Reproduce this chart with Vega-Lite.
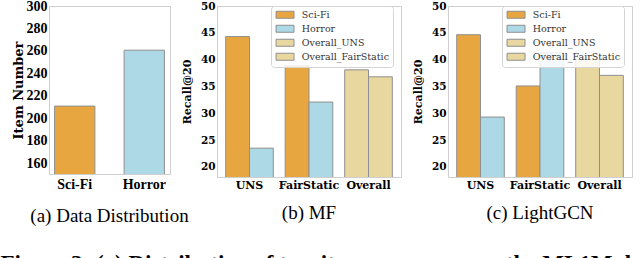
{
  "$schema": "https://vega.github.io/schema/vega-lite/v6.json",
  "background": "white",
  "padding": {"left": 0, "top": -2, "right": 5, "bottom": 0},
  "bounds": "flush",
  "spacing": 47,
  "title": {
    "text": "Figure 3: (a) Distribution of two item genres across the ML1M dataset",
    "orient": "bottom",
    "anchor": "start",
    "font": "Liberation Serif",
    "fontWeight": "bold",
    "fontSize": 23,
    "color": "#000000",
    "offset": 26,
    "dx": -11
  },
  "resolve": {"scale": {"fill": "independent"}, "legend": {"fill": "independent"}},
  "hconcat": [
    {
      "title": {"text": "(a) Data Distribution", "orient": "bottom", "anchor": "middle", "font": "Liberation Serif", "fontWeight": "normal", "fontSize": 19, "color": "#000000", "offset": 16},
      "data": {"values": [
        {"genre": "Sci-Fi", "items": 211},
        {"genre": "Horror", "items": 260.7}
      ]},
      "width": 121,
      "height": 168,
      "mark": {"type": "bar", "stroke": "#8f8f8f", "strokeWidth": 1, "clip": true},
      "encoding": {
        "x": {"field": "genre", "type": "nominal", "sort": ["Sci-Fi", "Horror"],
          "scale": {"paddingInner": 0.42, "paddingOuter": 0.08},
          "axis": {"title": null, "labelAngle": 0, "ticks": false, "domain": false, "labelPadding": 3,
            "labelFont": "Liberation Serif", "labelFontWeight": "bold", "labelFontSize": 14, "labelColor": "#000000"}},
        "y": {"field": "items", "type": "quantitative",
          "scale": {"domain": [150.6, 300], "nice": false, "zero": false},
          "axis": {"title": "Item Number", "values": [160, 180, 200, 220, 240, 260, 280, 300], "ticks": false, "domain": false, "grid": false,
            "labelPadding": 2, "labelFont": "Liberation Serif", "labelFontWeight": "bold", "labelFontSize": 14, "labelColor": "#000000",
            "titleFont": "DejaVu Serif", "titleFontWeight": "bold", "titleFontSize": 13, "titleColor": "#000000", "titlePadding": 1}},
        "fill": {"field": "genre", "type": "nominal",
          "scale": {"domain": ["Sci-Fi", "Horror"], "range": ["#E8A640", "#ADD8E6"]}, "legend": null}
      }
    },
    {
      "title": {"text": "(b) MF", "orient": "bottom", "anchor": "middle", "font": "Liberation Serif", "fontWeight": "normal", "fontSize": 19, "color": "#000000", "offset": 14},
      "data": {"values": [
        {"method": "UNS", "position": "1", "series": "Sci-Fi", "recall": 44.3},
        {"method": "UNS", "position": "2", "series": "Horror", "recall": 23.5},
        {"method": "FairStatic", "position": "1", "series": "Sci-Fi", "recall": 38.9},
        {"method": "FairStatic", "position": "2", "series": "Horror", "recall": 32.1},
        {"method": "Overall", "position": "1", "series": "Overall_UNS", "recall": 38.1},
        {"method": "Overall", "position": "2", "series": "Overall_FairStatic", "recall": 36.8}
      ]},
      "width": 184,
      "height": 171,
      "mark": {"type": "bar", "stroke": "#8f8f8f", "strokeWidth": 1, "clip": true},
      "encoding": {
        "x": {"field": "method", "type": "nominal", "sort": ["UNS", "FairStatic", "Overall"],
          "scale": {"paddingInner": 0.2, "paddingOuter": 0.146},
          "axis": {"title": null, "labelAngle": 0, "ticks": false, "domain": false, "labelPadding": 2,
            "labelFont": "DejaVu Serif", "labelFontWeight": "bold", "labelFontSize": 11, "labelColor": "#000000"}},
        "xOffset": {"field": "position", "type": "nominal", "sort": ["1", "2"], "scale": {"paddingInner": 0, "paddingOuter": 0}},
        "y": {"field": "recall", "type": "quantitative",
          "scale": {"domain": [18.13, 50], "nice": false, "zero": false},
          "axis": {"title": "Recall@20", "values": [20, 25, 30, 35, 40, 45, 50], "ticks": false, "domain": false, "grid": false,
            "labelPadding": 2, "labelFont": "DejaVu Serif", "labelFontWeight": "bold", "labelFontSize": 10.5, "labelColor": "#000000",
            "titleFont": "DejaVu Serif", "titleFontWeight": "bold", "titleFontSize": 11, "titleColor": "#000000", "titlePadding": 8}},
        "fill": {"field": "series", "type": "nominal",
          "scale": {"domain": ["Sci-Fi", "Horror", "Overall_UNS", "Overall_FairStatic"], "range": ["#E8A640", "#ADD8E6", "#E8D8A0", "#E8D8A0"]},
          "legend": {"title": null, "orient": "none", "legendX": 54, "legendY": 0, "direction": "vertical"}}
      }
    },
    {
      "title": {"text": "(c) LightGCN", "orient": "bottom", "anchor": "middle", "font": "Liberation Serif", "fontWeight": "normal", "fontSize": 19, "color": "#000000", "offset": 14},
      "data": {"values": [
        {"method": "UNS", "position": "1", "series": "Sci-Fi", "recall": 44.65},
        {"method": "UNS", "position": "2", "series": "Horror", "recall": 29.3},
        {"method": "FairStatic", "position": "1", "series": "Sci-Fi", "recall": 35.1},
        {"method": "FairStatic", "position": "2", "series": "Horror", "recall": 41.3},
        {"method": "Overall", "position": "1", "series": "Overall_UNS", "recall": 40.05},
        {"method": "Overall", "position": "2", "series": "Overall_FairStatic", "recall": 37.07}
      ]},
      "width": 184,
      "height": 171,
      "mark": {"type": "bar", "stroke": "#8f8f8f", "strokeWidth": 1, "clip": true},
      "encoding": {
        "x": {"field": "method", "type": "nominal", "sort": ["UNS", "FairStatic", "Overall"],
          "scale": {"paddingInner": 0.2, "paddingOuter": 0.146},
          "axis": {"title": null, "labelAngle": 0, "ticks": false, "domain": false, "labelPadding": 2,
            "labelFont": "DejaVu Serif", "labelFontWeight": "bold", "labelFontSize": 11, "labelColor": "#000000"}},
        "xOffset": {"field": "position", "type": "nominal", "sort": ["1", "2"], "scale": {"paddingInner": 0, "paddingOuter": 0}},
        "y": {"field": "recall", "type": "quantitative",
          "scale": {"domain": [18.13, 50], "nice": false, "zero": false},
          "axis": {"title": "Recall@20", "values": [20, 25, 30, 35, 40, 45, 50], "ticks": false, "domain": false, "grid": false,
            "labelPadding": 2, "labelFont": "DejaVu Serif", "labelFontWeight": "bold", "labelFontSize": 10.5, "labelColor": "#000000",
            "titleFont": "DejaVu Serif", "titleFontWeight": "bold", "titleFontSize": 11, "titleColor": "#000000", "titlePadding": 8}},
        "fill": {"field": "series", "type": "nominal",
          "scale": {"domain": ["Sci-Fi", "Horror", "Overall_UNS", "Overall_FairStatic"], "range": ["#E8A640", "#ADD8E6", "#E8D8A0", "#E8D8A0"]},
          "legend": {"title": null, "orient": "none", "legendX": 54, "legendY": 0, "direction": "vertical"}}
      }
    }
  ],
  "config": {
    "view": {"stroke": "#cfcfcf", "strokeWidth": 1},
    "legend": {
      "fillColor": "rgba(255,255,255,0.85)",
      "strokeColor": "#d5d5d5",
      "cornerRadius": 3,
      "padding": 4,
      "rowPadding": 2,
      "labelFont": "DejaVu Serif",
      "labelFontSize": 9.5,
      "labelColor": "#333333",
      "labelOffset": 17.3,
      "symbolType": "M-1.06,-1L4.08,-1L4.08,1L-1.06,1Z",
      "symbolSize": 49,
      "symbolStrokeColor": "#8f8f8f",
      "symbolStrokeWidth": 1,
      "symbolOpacity": 1
    }
  }
}
